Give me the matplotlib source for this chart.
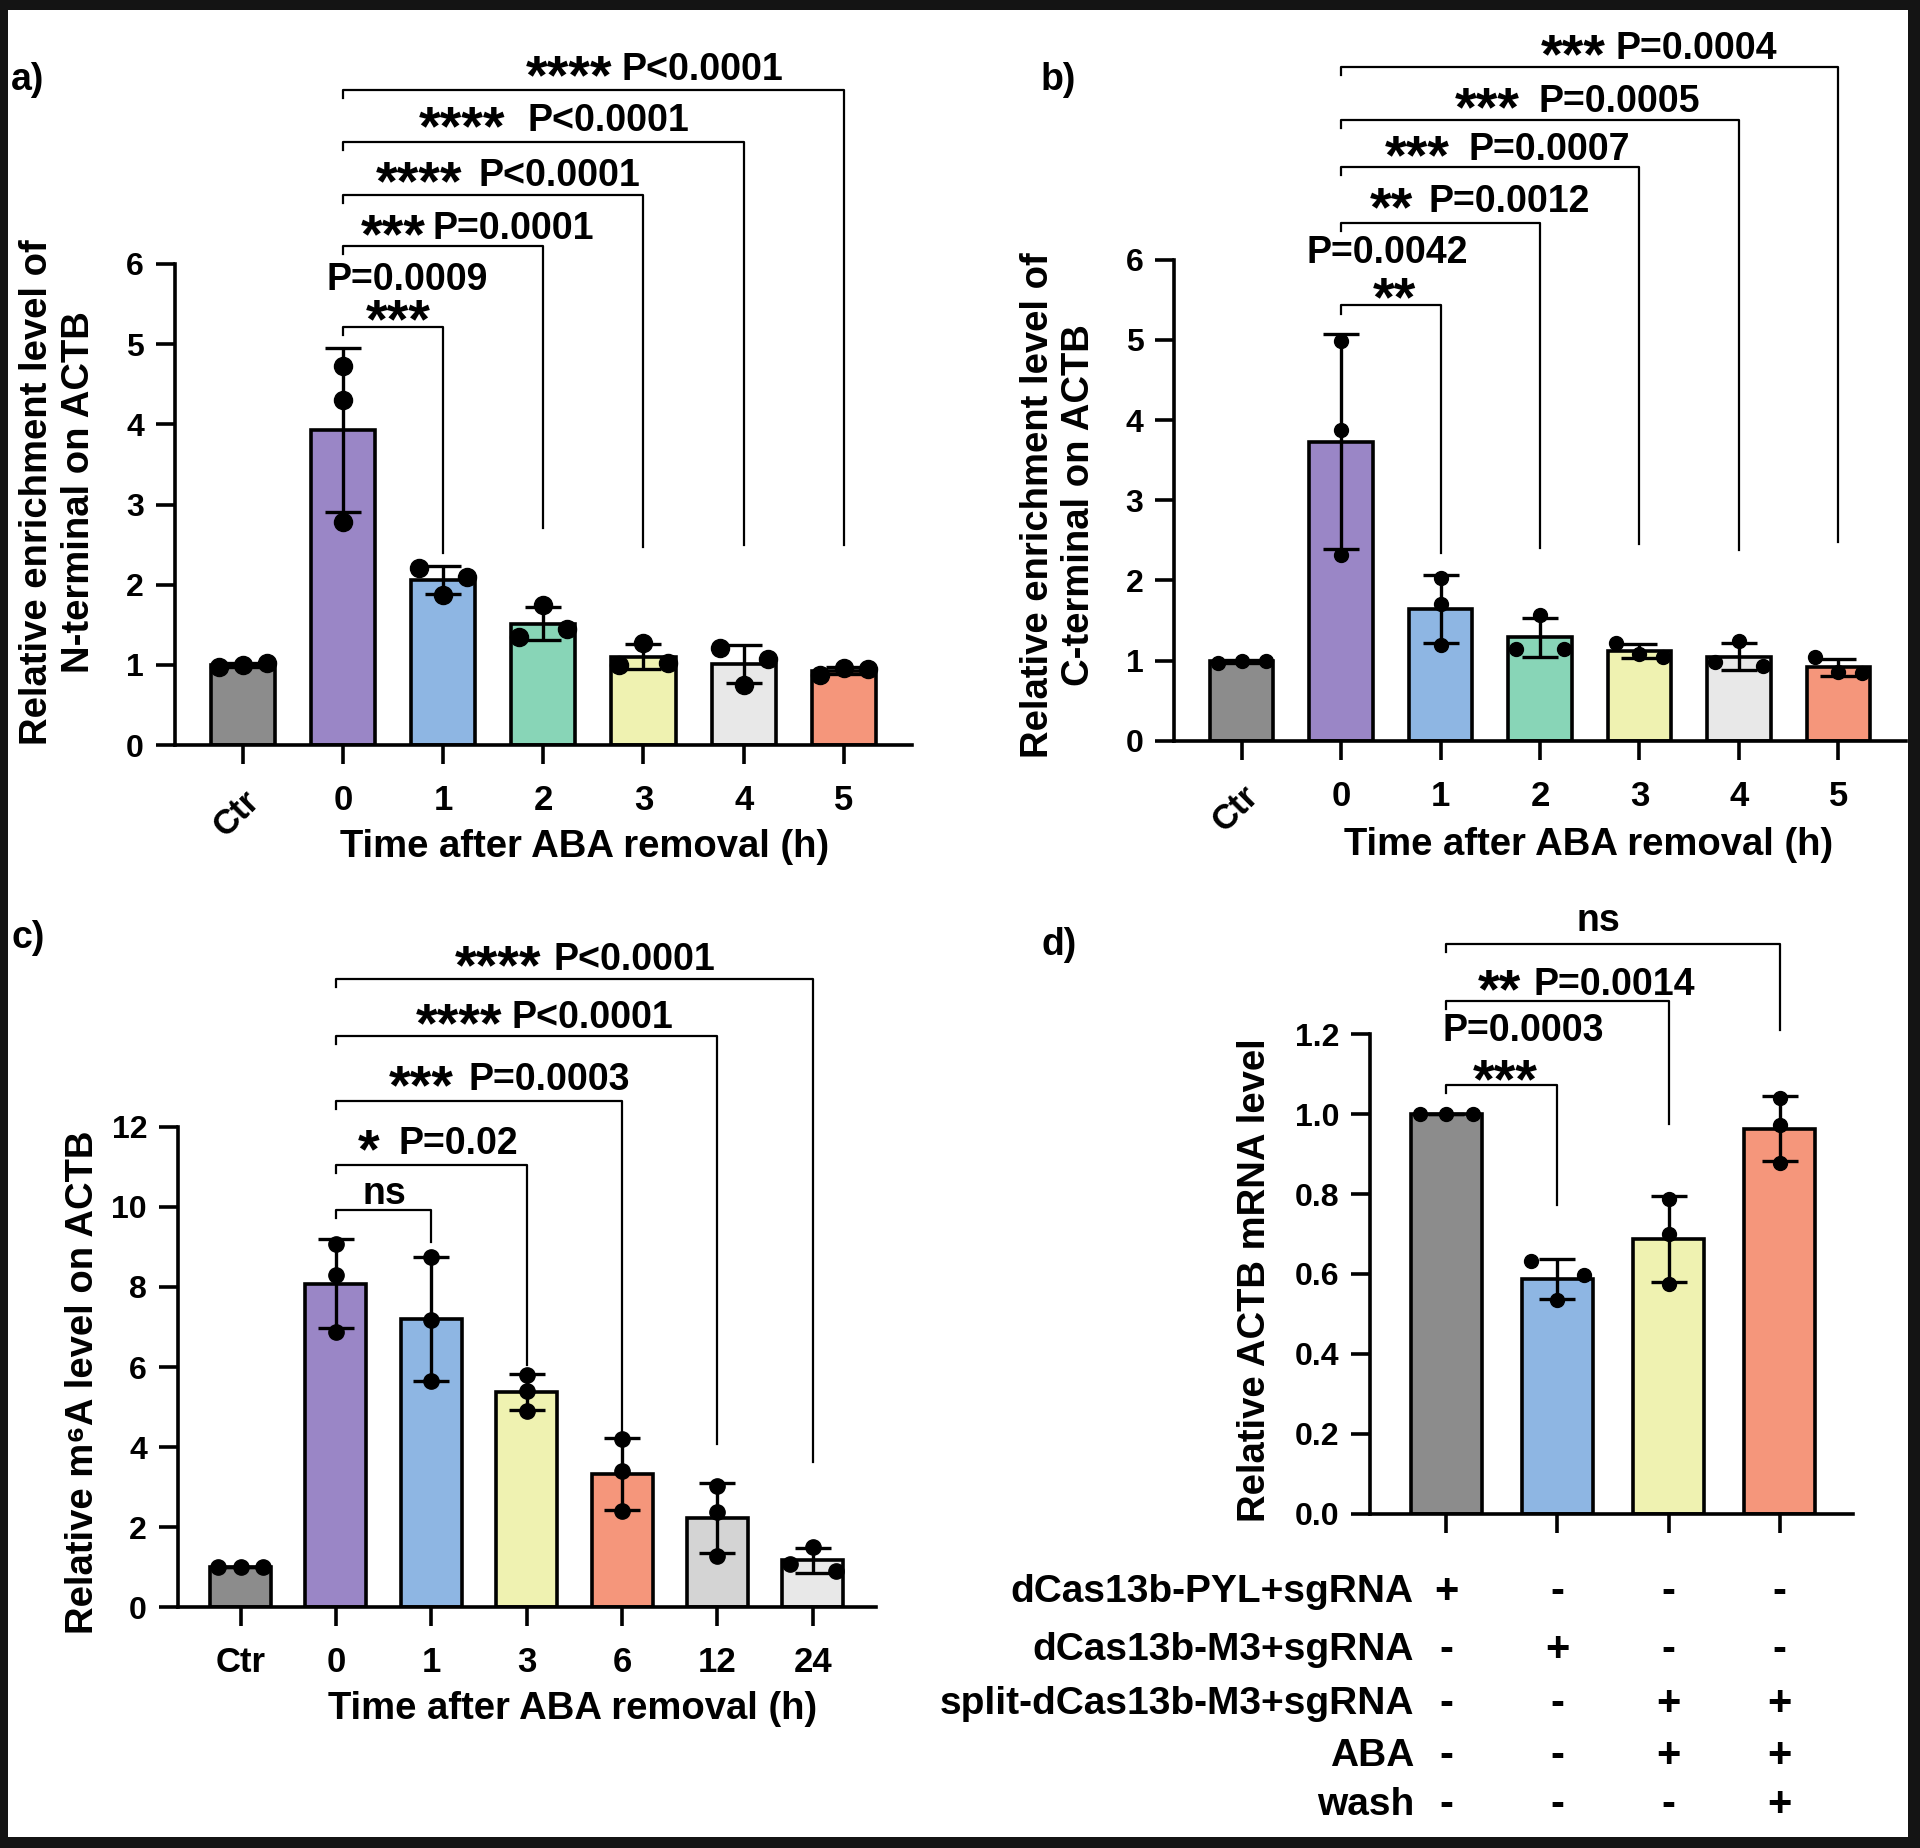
import numpy as np
import matplotlib
matplotlib.use('Agg')
import matplotlib.pyplot as plt
from matplotlib.patches import Rectangle
from matplotlib.transforms import blended_transform_factory, offset_copy

plt.rcParams['font.family'] = ['Liberation Sans', 'DejaVu Sans']
plt.rcParams['font.weight'] = 'bold'
plt.rcParams['axes.labelweight'] = 'bold'

GRAY = '#8c8c8c'
PURPLE = '#9a86c6'
BLUE = '#8eb6e3'
GREEN = '#88d5b7'
YELLOW = '#eff2b1'
LGRAY = '#e8e8e8'
MGRAY = '#d4d4d4'
SALMON = '#f5967b'

# ---------------- data ----------------
# panel a: N-terminal enrichment
a_groups = ['Ctr', '0', '1', '2', '3', '4', '5']
a_points = [
    [0.98, 1.00, 1.02],
    [4.72, 4.30, 2.78],
    [2.21, 1.87, 2.10],
    [1.75, 1.35, 1.45],
    [1.28, 1.00, 1.02],
    [1.21, 1.07, 0.75],
    [0.88, 0.96, 0.95],
]
a_pairs = [(1, 2), (1, 3), (1, 4), (1, 5), (1, 6)]
a_stars = ['***', '***', '****', '****', '****']
a_pvals = ['P=0.0009', 'P=0.0001', 'P<0.0001', 'P<0.0001', 'P<0.0001']

# panel b: C-terminal enrichment
b_groups = ['Ctr', '0', '1', '2', '3', '4', '5']
b_points = [
    [0.97, 1.00, 1.00],
    [4.99, 3.88, 2.32],
    [2.03, 1.71, 1.19],
    [1.57, 1.15, 1.15],
    [1.22, 1.08, 1.05],
    [1.24, 0.98, 0.93],
    [1.04, 0.86, 0.85],
]
b_pairs = [(1, 2), (1, 3), (1, 4), (1, 5), (1, 6)]
b_stars = ['**', '**', '***', '***', '***']
b_pvals = ['P=0.0042', 'P=0.0012', 'P=0.0007', 'P=0.0005', 'P=0.0004']

# panel c: m6A level
c_groups = ['Ctr', '0', '1', '3', '6', '12', '24']
c_points = [
    [1.00, 1.00, 1.00],
    [9.06, 8.30, 6.87],
    [8.75, 7.17, 5.66],
    [5.80, 5.40, 4.90],
    [4.20, 3.40, 2.40],
    [3.02, 2.38, 1.28],
    [1.52, 1.09, 0.91],
]
c_pairs = [(1, 2), (1, 3), (1, 4), (1, 5), (1, 6)]
c_stars = ['ns', '*', '***', '****', '****']
c_pvals = ['', 'P=0.02', 'P=0.0003', 'P<0.0001', 'P<0.0001']

# panel d: ACTB mRNA level
d_points = [
    [1.00, 1.00, 1.00],
    [0.633, 0.534, 0.598],
    [0.700, 0.787, 0.575],
    [1.040, 0.973, 0.878],
]
d_pairs = [(0, 1), (0, 2), (0, 3)]
d_stars = ['***', '**', 'ns']
d_pvals = ['P=0.0003', 'P=0.0014', '']
d_rows = ['dCas13b-PYL+sgRNA', 'dCas13b-M3+sgRNA', 'split-dCas13b-M3+sgRNA', 'ABA', 'wash']
d_signs = [
    ['+', '-', '-', '-'],
    ['-', '+', '-', '-'],
    ['-', '-', '+', '+'],
    ['-', '-', '+', '+'],
    ['-', '-', '-', '+'],
]

# ---------------- layout ----------------
W, H = 1920, 1848
fig = plt.figure(figsize=(W / 100, H / 100), dpi=100, facecolor='#141414')
fig.patches.append(Rectangle((8 / W, 11 / H), 1900 / W, 1827 / H, transform=fig.transFigure,
                             facecolor='white', edgecolor='none', zorder=-10))


def px_axes(x0, x1, ytop, ybot):
    return fig.add_axes([x0 / W, 1 - ybot / H, (x1 - x0) / W, (ybot - ytop) / H])


def dodge(vals, thr, step=0.24):
    # spread points that would overlap, like the prism scatter
    vals = np.asarray(vals)
    order = np.argsort(vals, kind='stable')
    clusters = [[order[0]]]
    for i in order[1:]:
        if vals[i] - vals[clusters[-1][-1]] < thr:
            clusters[-1].append(i)
        else:
            clusters.append([i])
    off = np.zeros(len(vals))
    for cl in clusters:
        cl = sorted(cl)
        pos = [0.0] if len(cl) == 1 else np.linspace(-step, step, len(cl))
        for k, i in enumerate(cl):
            off[i] = pos[k]
    return off


LW = 2.6
FS_XTICK = 25
FS_YTICK = 23
FS_LAB = 27.5
FS_ANN = 27
FS_STAR = 40
STAR_DROP = 6.5   # points, pulls the asterisks down to mid-cap height


def bar_panel(ax, points, colors, ylim, yticks, thr, msize, xlim):
    x = np.arange(len(points))
    means = np.array([np.mean(p) for p in points])
    sds = np.array([np.std(p, ddof=1) for p in points])
    ax.bar(x, means, width=0.64, color=colors, edgecolor='black', linewidth=LW, zorder=2)
    ax.errorbar(x, means, yerr=sds, fmt='none', ecolor='black', elinewidth=2.4,
                capsize=13, capthick=2.4, zorder=3)
    for i, p in enumerate(points):
        off = dodge(p, thr)
        ax.plot(x[i] + off, p, 'o', color='black', markersize=msize, zorder=4, clip_on=False)
    ax.set_xlim(*xlim)
    ax.set_ylim(*ylim)
    ax.set_yticks(yticks)
    ax.set_xticks(x)
    for s in ['top', 'right']:
        ax.spines[s].set_visible(False)
    for s in ['left', 'bottom']:
        ax.spines[s].set_linewidth(LW)
    ax.tick_params(axis='both', direction='out', width=LW, length=14)
    ax.tick_params(axis='x', pad=14, labelsize=FS_XTICK)
    ax.tick_params(axis='y', pad=8, labelsize=FS_YTICK)


def brackets(ax, pairs, stars, pvals, levels, drops, layout, ldrop=0.1):
    star_tr = offset_copy(ax.transData, fig=fig, y=-STAR_DROP, units='points')
    for k, (i, j) in enumerate(pairs):
        y = levels[k]
        ax.plot([i, i, j, j], [y - ldrop, y, y, drops[k]], color='black', lw=1.6,
                clip_on=False, zorder=5)
        kind = layout[k][0]
        if kind == 'single':
            _, tx, ty = layout[k]
            ax.text(tx, ty, stars[k], ha='center', va='center', fontsize=FS_ANN)
        elif kind == 'stack':
            _, (sx, sy), (px, py) = layout[k]
            ax.text(sx, sy, stars[k], ha='center', va='center', fontsize=FS_STAR,
                    transform=star_tr)
            ax.text(px, py, pvals[k], ha='center', va='center', fontsize=FS_ANN)
        else:
            _, send, pstart, ty = layout[k]
            ax.text(send, ty, stars[k], ha='right', va='center', fontsize=FS_STAR,
                    transform=star_tr)
            ax.text(pstart, ty, pvals[k], ha='left', va='center', fontsize=FS_ANN)


def rotate_ctr(ax):
    lab = ax.get_xticklabels()[0]
    lab.set_rotation(45)
    lab.set_ha('right')
    lab.set_va('top')
    lab.set_rotation_mode('anchor')


# ---- panel a ----
axa = px_axes(174.5, 912, 263.8, 745.2)
bar_panel(axa, a_points, [GRAY, PURPLE, BLUE, GREEN, YELLOW, LGRAY, SALMON],
          (0, 6), range(0, 7), 0.25, 13, (-0.68, 6.68))
axa.set_xticklabels(a_groups)
rotate_ctr(axa)
brackets(axa, a_pairs, a_stars, a_pvals,
         [5.21, 6.22, 6.86, 7.52, 8.17], [2.40, 2.71, 2.47, 2.50, 2.50],
         [('stack', (1.55, 5.37), (1.64, 5.80)),
          ('inline', 1.83, 1.89, 6.43),
          ('inline', 2.19, 2.35, 7.09),
          ('inline', 2.62, 2.84, 7.78),
          ('inline', 3.69, 3.78, 8.41)])
axa.text(-0.158, 0.526, 'Relative enrichment level of\nN-terminal on ACTB', transform=axa.transAxes,
         rotation=90, ha='center', va='center', fontsize=FS_LAB, linespacing=1.2)
axa.text(0.556, -0.211, 'Time after ABA removal (h)', transform=axa.transAxes,
         ha='center', va='center', fontsize=FS_LAB)

# ---- panel b ----
axb = px_axes(1174, 1906, 259.8, 740.7)
bar_panel(axb, b_points, [GRAY, PURPLE, BLUE, GREEN, YELLOW, LGRAY, SALMON],
          (0, 6), range(0, 7), 0.2, 10, (-0.68, 6.68))
axb.set_xticklabels(b_groups)
rotate_ctr(axb)
brackets(axb, b_pairs, b_stars, b_pvals,
         [5.43, 6.46, 7.16, 7.74, 8.40], [2.34, 2.41, 2.45, 2.38, 2.48],
         [('stack', (1.54, 5.60), (1.46, 6.08)),
          ('inline', 1.72, 1.88, 6.72),
          ('inline', 2.09, 2.28, 7.37),
          ('inline', 2.80, 2.98, 7.97),
          ('inline', 3.66, 3.76, 8.63)])
axb.text(-0.158, 0.49, 'Relative enrichment level of\nC-terminal on ACTB', transform=axb.transAxes,
         rotation=90, ha='center', va='center', fontsize=FS_LAB, linespacing=1.2)
axb.text(0.567, -0.216, 'Time after ABA removal (h)', transform=axb.transAxes,
         ha='center', va='center', fontsize=FS_LAB)

# ---- panel c ----
axc = px_axes(177.6, 875.7, 1126.7, 1607.4)
bar_panel(axc, c_points, [GRAY, PURPLE, BLUE, YELLOW, SALMON, MGRAY, LGRAY],
          (0, 12), range(0, 13, 2), 0.35, 11, (-0.66, 6.66))
axc.set_xticklabels(c_groups)
brackets(axc, c_pairs, c_stars, c_pvals,
         [9.92, 11.05, 12.63, 14.26, 15.69], [9.13, 6.04, 4.38, 4.08, 3.62],
         [('single', 1.51, 10.31),
          ('inline', 1.46, 1.66, 11.57),
          ('inline', 2.23, 2.39, 13.17),
          ('inline', 2.74, 2.84, 14.71),
          ('inline', 3.15, 3.28, 16.15)], ldrop=0.2)
axc.text(-0.136, 0.469, 'Relative m⁶A level on ACTB', transform=axc.transAxes,
         rotation=90, ha='center', va='center', fontsize=FS_LAB)
axc.text(0.566, -0.211, 'Time after ABA removal (h)', transform=axc.transAxes,
         ha='center', va='center', fontsize=FS_LAB)

# ---- panel d ----
axd = px_axes(1369.7, 1853, 1034.2, 1513.6)
bar_panel(axd, d_points, [GRAY, BLUE, YELLOW, SALMON],
          (0, 1.2), np.arange(0, 1.21, 0.2), 0.06, 10, (-0.69, 3.66))
axd.set_yticklabels([f'{v:.1f}' for v in np.arange(0, 1.21, 0.2)])
axd.set_xticklabels([])
brackets(axd, d_pairs, d_stars, d_pvals,
         [1.074, 1.282, 1.427], [0.772, 0.976, 1.21],
         [('stack', (0.53, 1.10), (0.69, 1.208)),
          ('inline', 0.67, 0.78, 1.324),
          ('single', 1.37, 1.483)], ldrop=0.02)
axd.text(-0.238, 0.488, 'Relative ACTB mRNA level', transform=axd.transAxes,
         rotation=90, ha='center', va='center', fontsize=FS_LAB)

tr = blended_transform_factory(axd.transData, fig.transFigure)
row_y = [1592, 1649.7, 1704, 1755.5, 1805]
for r, (name, signs) in enumerate(zip(d_rows, d_signs)):
    fy = 1 - row_y[r] / H
    fig.text(1414 / W, fy, name, ha='right', va='center', fontsize=28)
    for k, s in enumerate(signs):
        axd.text(k, fy, s, transform=tr, ha='center', va='center', fontsize=30)

# panel letters
for lab, (px, py) in zip(['a)', 'b)', 'c)', 'd)'], [(28, 80), (1058, 80), (28, 938), (1059, 945)]):
    fig.text(px / W, 1 - py / H, lab, ha='center', va='center', fontsize=27)

fig.savefig('out.png', dpi=100, facecolor=fig.get_facecolor())
